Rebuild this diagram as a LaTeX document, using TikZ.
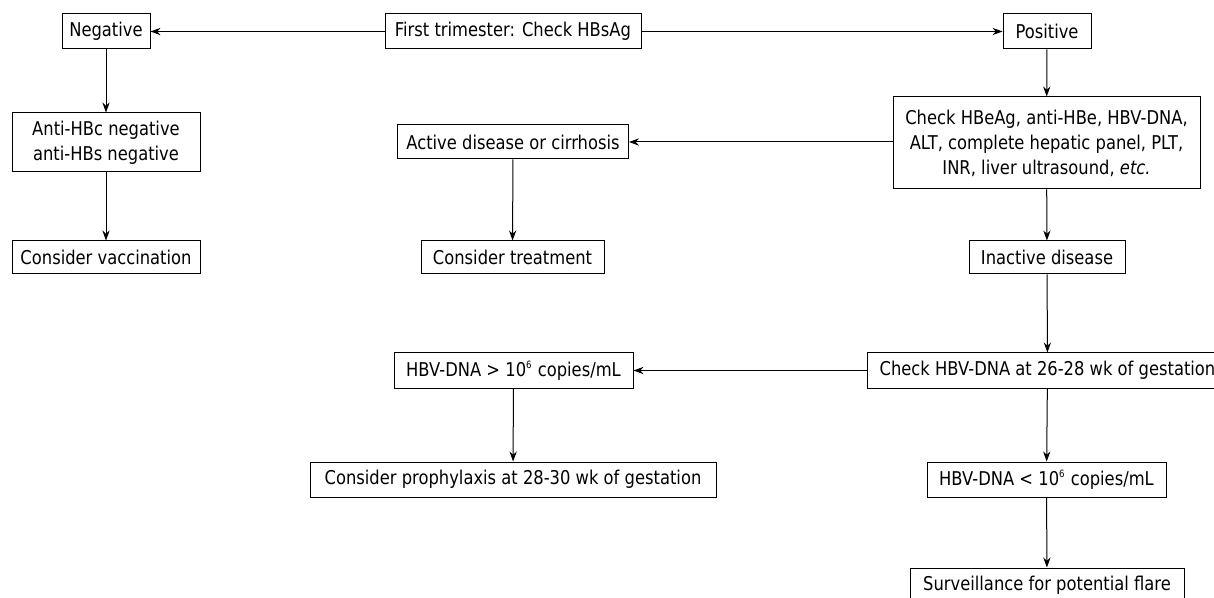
\documentclass[tikz,border=0pt]{standalone}
\usepackage{fontspec}
\setmainfont{DejaVu Sans}[FakeStretch=0.86]
\usepackage{tikz}
\usetikzlibrary{arrows.meta}

\begin{document}
\begin{tikzpicture}[x=0.5pt,y=-0.5pt,line width=0.5pt,
    box/.style={draw, inner sep=0pt, minimum height=17.5pt, align=center,
        font=\fontsize{9.5}{12.5}\selectfont},
    arr/.style={-{Stealth[length=5pt,width=3.6pt]}}]
    \useasboundingbox (0,0) rectangle (1214,598);

    % Top row
    \node [box, minimum width=44pt] (neg) at (106,31.5) {Negative};
    \node [box, minimum width=128pt] (first) at (513,31.5) {First trimester: Check HBsAg};
    \node [box, minimum width=44pt] (pos) at (1047,31.5) {Positive};

    % Negative branch
    \node [box, minimum width=94pt, minimum height=29.5pt] (anti) at (106,142.5)
        {Anti-HBc negative\\anti-HBs negative};
    \node [box, minimum width=94pt, minimum height=16.5pt] (vacc) at (106,257.5) {Consider vaccination};

    % Positive branch
    \node [box, minimum width=153.5pt, minimum height=46pt] (check) at (1046.5,143)
        {Check HBeAg, anti-HBe, HBV-DNA,\\ALT, complete hepatic panel, PLT,\\INR, liver ultrasound, \textit{etc.}};
    \node [box, minimum width=115.5pt, minimum height=17pt] (active) at (513,142) {Active disease or cirrhosis};
    \node [box, minimum width=91.5pt, minimum height=16.5pt] (treat) at (512.5,257.5) {Consider treatment};
    \node [box, minimum width=78pt, minimum height=16.5pt] (inact) at (1047,257.5) {Inactive disease};

    % HBV-DNA levels
    \node [box, minimum width=180.5pt] (check26) at (1047.5,370.5) {Check HBV-DNA at 26-28 wk of gestation};
    \node [box, minimum width=119.5pt] (dnahi) at (513.5,370.5) {HBV-DNA > 10\textsuperscript{\tiny 6} copies/mL};
    \node [box, minimum width=119.5pt] (dnalo) at (1046.5,479.5) {HBV-DNA < 10\textsuperscript{\tiny 6} copies/mL};
    \node [box, minimum width=203pt] (proph) at (513,479.5) {Consider prophylaxis at 28-30 wk of gestation};
    \node [box, minimum width=137pt] (surv) at (1047,585.5) {Surveillance for potential flare};

    % Connectors
    \draw [arr] (first) -- (neg);
    \draw [arr] (first) -- (pos);
    \draw [arr] (neg) -- (anti);
    \draw [arr] (anti) -- (vacc);
    \draw [arr] (pos) -- (check);
    \draw [arr] (check.west |- active) -- (active);
    \draw [arr] (active) -- (treat);
    \draw [arr] (check) -- (inact);
    \draw [arr] (inact) -- (check26);
    \draw [arr] (check26) -- (dnahi);
    \draw [arr] (dnahi) -- (proph);
    \draw [arr] (check26) -- (dnalo);
    \draw [arr] (dnalo) -- (surv);
\end{tikzpicture}
\end{document}
